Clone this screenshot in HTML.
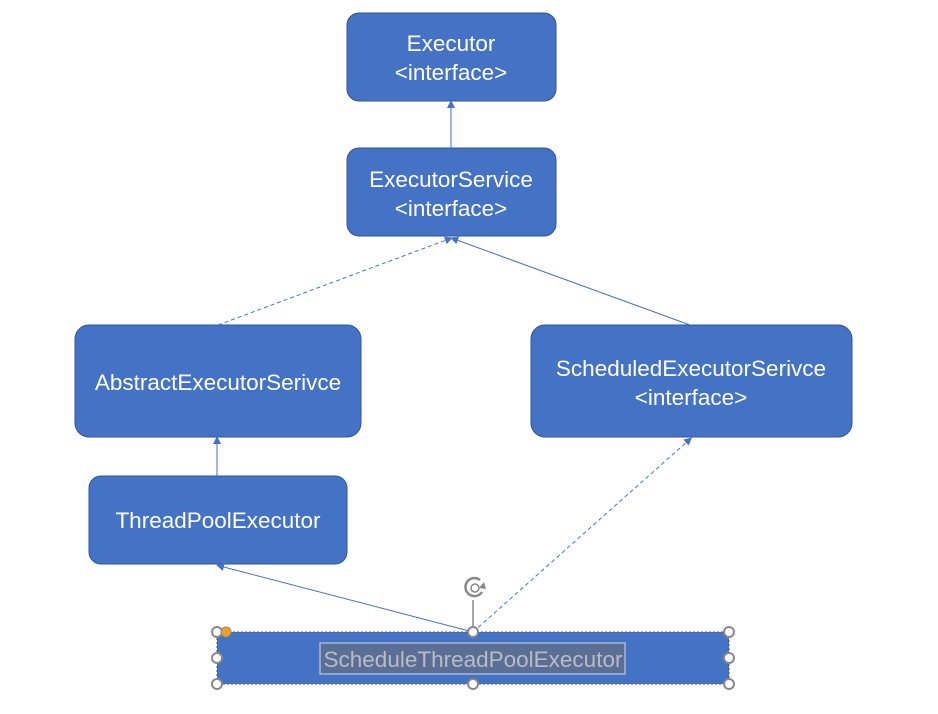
<!DOCTYPE html>
<html><head><meta charset="utf-8"><style>
html,body{margin:0;padding:0;background:#fff;}
svg{display:block;}
text{font-family:"Liberation Sans","Noto Sans CJK SC",sans-serif;font-size:22.5px;fill:#fff;text-anchor:middle;}
</style></head><body>
<svg width="938" height="714" viewBox="0 0 938 714">
<defs>
<marker id="a" markerWidth="8" markerHeight="8" refX="4" refY="4" orient="auto" markerUnits="userSpaceOnUse">
<path d="M0,0 L8,4 L0,8 z" fill="#4472c4"/></marker>
</defs>
<g fill="#4472c4" stroke="#2f5597" stroke-width="1">
<rect x="347" y="13" width="209" height="88" rx="12"/>
<rect x="347" y="148" width="209" height="88" rx="12"/>
<rect x="75" y="325" width="286" height="112" rx="14"/>
<rect x="531" y="325" width="321" height="112" rx="14"/>
<rect x="89" y="476" width="258" height="88" rx="12"/>
</g>
<rect x="217" y="632" width="512" height="52" fill="#4472c4" stroke="#555" stroke-dasharray="2,2"/>
<g stroke="#4472c4" stroke-width="1" fill="none">
<line x1="451" y1="148" x2="451" y2="104" marker-end="url(#a)"/>
<line x1="218" y1="325" x2="449" y2="239" stroke-dasharray="4,3" marker-end="url(#a)"/>
<line x1="690" y1="325" x2="454" y2="239" marker-end="url(#a)"/>
<line x1="217" y1="476" x2="217" y2="440" marker-end="url(#a)"/>
<line x1="473" y1="632" x2="220" y2="566" marker-end="url(#a)"/>
<line x1="473" y1="632" x2="689" y2="440" stroke-dasharray="4,3" marker-end="url(#a)"/>
</g>
<text x="451" y="51">Executor</text>
<text x="451" y="80">&lt;interface&gt;</text>
<text x="451" y="187">ExecutorService</text>
<text x="451" y="216">&lt;interface&gt;</text>
<text x="218" y="390">AbstractExecutorSerivce</text>
<text x="691" y="376">ScheduledExecutorSerivce</text>
<text x="691" y="405">&lt;interface&gt;</text>
<text x="218" y="528">ThreadPoolExecutor</text>
<rect x="320" y="643" width="305" height="31" fill="#5b6f96" stroke="#aab8d8" stroke-width="1.5"/>
<text x="473" y="667" style="fill:#b8bcc4">ScheduleThreadPoolExecutor</text>
<line x1="473" y1="600" x2="473" y2="626" stroke="#888" stroke-width="1.5"/>
<path d="M480,580 A9,9 0 1 0 482,592" fill="none" stroke="#888" stroke-width="2.5"/>
<path d="M484,582 l-5,6 l7,1z" fill="#888"/>
<circle cx="475" cy="588" r="4" fill="none" stroke="#888" stroke-width="1.5"/>
<g fill="#fff" stroke="#888" stroke-width="2">
<circle cx="217" cy="632" r="5"/><circle cx="473" cy="632" r="5"/><circle cx="729" cy="632" r="5"/>
<circle cx="217" cy="658" r="5"/><circle cx="729" cy="658" r="5"/>
<circle cx="217" cy="684" r="5"/><circle cx="473" cy="684" r="5"/><circle cx="729" cy="684" r="5"/>
</g>
<circle cx="226" cy="632" r="5" fill="#f4a11d" stroke="#888" stroke-width="1"/>
</svg>
</body></html>
